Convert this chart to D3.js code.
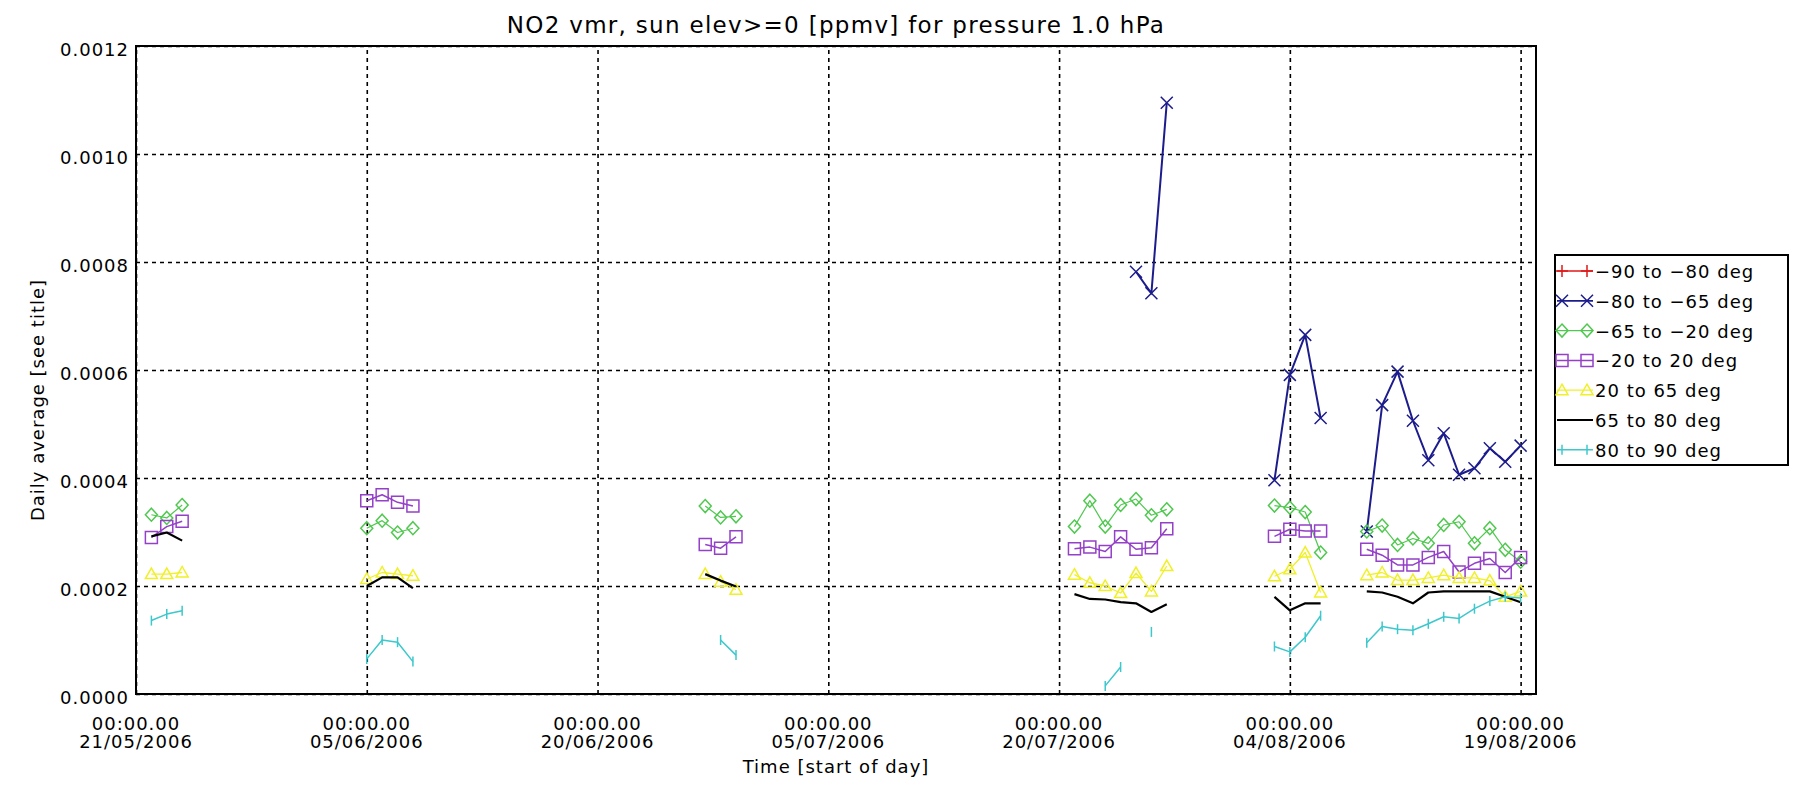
<!DOCTYPE html>
<html>
<head>
<meta charset="utf-8">
<script src="https://cdn.jsdelivr.net/npm/d3@7"></script>
<style>
body { margin: 0; background: #fff; }
svg text { font-family: "DejaVu Sans", sans-serif; fill: #000; }
</style>
</head>
<body>
<div id="chart"></div>
<script>
// days with data (start of day, UTC)
const days = [
    "2006-05-22", "2006-05-23", "2006-05-24",
    "2006-06-05", "2006-06-06", "2006-06-07", "2006-06-08",
    "2006-06-27", "2006-06-28", "2006-06-29",
    "2006-07-21", "2006-07-22", "2006-07-23", "2006-07-24", "2006-07-25", "2006-07-26", "2006-07-27",
    "2006-08-03", "2006-08-04", "2006-08-05", "2006-08-06",
    "2006-08-09", "2006-08-10", "2006-08-11", "2006-08-12", "2006-08-13", "2006-08-14",
    "2006-08-15", "2006-08-16", "2006-08-17", "2006-08-18", "2006-08-19"
];

const bandLabels = ["\u221290 to \u221280 deg", "\u221280 to \u221265 deg", "\u221265 to \u221220 deg",
                    "\u221220 to 20 deg", "20 to 65 deg", "65 to 80 deg", "80 to 90 deg"];

const band90S = [
    null, null, null, null, null, null, null, null, null, null,
    null, null, null, null, null, null, null, null, null, null, null,
    null, null, null, null, null, null, null, null, null, null, null
];
const band80S = [
    null, null, null,
    null, null, null, null,
    null, null, null,
    null, null, null, null, 0.000782, 0.000742, 0.001095,
    0.000396, 0.000591, 0.000665, 0.000511,
    0.000301, 0.000535, 0.000597, 0.000506, 0.000433, 0.000483, 0.000406, 0.000418, 0.000455, 0.000430, 0.000460
];
const band65S = [
    0.000332, 0.000326, 0.000350,
    0.000307, 0.000321, 0.000299, 0.000307,
    0.000348, 0.000327, 0.000329,
    0.000310, 0.000358, 0.000310, 0.000350, 0.000361, 0.000331, 0.000342,
    0.000349, 0.000345, 0.000337, 0.000262,
    0.000301, 0.000312, 0.000276, 0.000288, 0.000279, 0.000313, 0.000319, 0.000279, 0.000307, 0.000267, 0.000245
];
const band20S = [
    0.000290, 0.000310, 0.000320,
    0.000358, 0.000369, 0.000355, 0.000348,
    0.000277, 0.000270, 0.000291,
    0.000269, 0.000272, 0.000264, 0.000291, 0.000268, 0.000271, 0.000306,
    0.000292, 0.000305, 0.000302, 0.000302,
    0.000268, 0.000257, 0.000239, 0.000239, 0.000253, 0.000264, 0.000226, 0.000242, 0.000251, 0.000225, 0.000253
];
const band20N = [
    0.000222, 0.000222, 0.000225,
    0.000213, 0.000225, 0.000222, 0.000219,
    0.000222, 0.000208, 0.000193,
    0.000221, 0.000206, 0.000200, 0.000187, 0.000224, 0.000190, 0.000237,
    0.000218, 0.000231, 0.000262, 0.000188,
    0.000220, 0.000225, 0.000211, 0.000211, 0.000215, 0.000220, 0.000215, 0.000215, 0.000210, 0.000180, 0.000190
];
const band65N = [
    0.000292, 0.000299, 0.000284,
    0.000200, 0.000216, 0.000216, 0.000196,
    0.000222, 0.000210, 0.000199,
    0.000185, 0.000176, 0.000175, 0.000170, 0.000168, 0.000152, 0.000166,
    0.000180, 0.000155, 0.000168, 0.000168,
    0.000190, 0.000188, 0.000180, 0.000168, 0.000188, 0.000190, 0.000190, 0.000190, 0.000190, 0.000180, 0.000170
];
const band80N = [
    0.000136, 0.000148, 0.000154,
    0.000065, 0.000100, 0.000096, 0.000060,
    null, 0.000100, 0.000072,
    null, null, 0.000015, 0.000050, null, 0.000115, null,
    0.000088, 0.000078, 0.000105, 0.000145,
    0.000095, 0.000125, 0.000120, 0.000118, 0.000130, 0.000143, 0.000140, 0.000158, 0.000172, 0.000180, 0.000178
];

const xTickDays = ["2006-05-21", "2006-06-05", "2006-06-20", "2006-07-05", "2006-07-20", "2006-08-04", "2006-08-19"];
const yTickValues = [0, 0.0002, 0.0004, 0.0006, 0.0008, 0.0010, 0.0012];
const xDomain = ["2006-05-21", "2006-08-20"];

const titleText = "NO2 vmr, sun elev>=0 [ppmv] for pressure 1.0 hPa";
const xTitle = "Time [start of day]";
const yTitle = "Daily average [see title]";

// styles, one per band
const bandStyles = [
    {color: "#e01818", marker: "plus",     lw: 1.5},
    {color: "#1c1c8c", marker: "x",        lw: 2},
    {color: "#50c850", marker: "diamond",  lw: 1.2},
    {color: "#9440c8", marker: "square",   lw: 1.5},
    {color: "#f0f028", marker: "triangle", lw: 1.3},
    {color: "#000000", marker: "none",     lw: 2.2},
    {color: "#3cc8cc", marker: "bar",      lw: 1.5}
];

function markerPath(type) {
    if (type === "plus") return "M-6,0H6M0,-6V6";
    if (type === "x") return "M-6,-6L6,6M-6,6L6,-6";
    if (type === "diamond") return "M0,-6.5L6,0L0,6.5L-6,0Z";
    if (type === "square") return "M-6,-6H6V6H-6Z";
    if (type === "triangle") return "M0,-6L6,4.5L-6,4.5Z";
    if (type === "bar") return "M0,-5V5";
    return "";
}

function drawChart(rootElement) {
    let width = 1794, height = 787;
    let left = 136, right = 1536, top = 46, bottom = 694;
    let parse = d3.utcParse("%Y-%m-%d");

    let svg = d3.select("#" + rootElement).append("svg")
                .attr("width", width)
                .attr("height", height)
                .style("display", "block");

    let x = d3.scaleUtc().domain(xDomain.map(parse)).range([left, right]);
    let y = d3.scaleLinear().domain([0, 0.0012]).range([bottom, top]);

    // dotted grid
    let gx = svg.append("g")
        .attr("transform", "translate(0," + bottom + ")")
        .call(d3.axisBottom(x).tickValues(xTickDays.map(parse)).tickSize(-(bottom - top)).tickFormat(""));
    let gy = svg.append("g")
        .attr("transform", "translate(" + left + ",0)")
        .call(d3.axisLeft(y).tickValues(yTickValues).tickSize(-(right - left)).tickFormat(""));
    [gx, gy].forEach(function(g) {
        g.select(".domain").remove();
        g.selectAll(".tick line")
            .attr("stroke", "#000")
            .attr("stroke-width", 1.6)
            .attr("stroke-dasharray", "4,4");
    });

    // series
    let allBands = [band90S, band80S, band65S, band20S, band20N, band65N, band80N];
    let line = d3.line()
                .defined(p => p.v !== null)
                .x(p => x(p.date))
                .y(p => y(p.v));

    allBands.forEach(function(values, k) {
        let st = bandStyles[k];
        let pts = [];
        values.forEach(function(v, i) {
            let d = parse(days[i]);
            if (i > 0 && (d - parse(days[i - 1])) > 1.5 * 86400000) pts.push({date: null, v: null});
            pts.push({date: d, v: v});
        });
        svg.append("path")
            .attr("d", line(pts))
            .attr("fill", "none")
            .attr("stroke", st.color)
            .attr("stroke-width", st.lw)
            .attr("stroke-linejoin", "round");

        if (st.marker !== "none") {
            svg.append("g").selectAll("path")
                .data(pts.filter(p => p.v !== null))
                .join("path")
                .attr("d", markerPath(st.marker))
                .attr("transform", p => "translate(" + x(p.date) + "," + y(p.v) + ")")
                .attr("fill", "none")
                .attr("stroke", st.color)
                .attr("stroke-width", 1.5);
        }
    });

    // frame
    svg.append("rect")
        .attr("x", left).attr("y", top)
        .attr("width", right - left).attr("height", bottom - top)
        .attr("fill", "none")
        .attr("stroke", "#000")
        .attr("stroke-width", 2);

    // tick labels
    let dayFormat = d3.utcFormat("%d/%m/%Y");
    let xl = svg.append("g").selectAll("text")
        .data(xTickDays.map(parse))
        .join("text")
        .attr("text-anchor", "middle")
        .style("font-size", "18px")
        .style("letter-spacing", "1px");
    xl.append("tspan").attr("x", d => x(d)).attr("y", 730).text("00:00.00");
    xl.append("tspan").attr("x", d => x(d)).attr("y", 748).text(d => dayFormat(d));

    svg.append("g").selectAll("text")
        .data(yTickValues)
        .join("text")
        .attr("x", left - 7)
        .attr("y", d => y(d) + 10)
        .attr("text-anchor", "end")
        .style("font-size", "18px")
        .style("letter-spacing", "1px")
        .text(d3.format(".4f"));

    // titles
    svg.append("text")
        .attr("x", (left + right) / 2)
        .attr("y", 33)
        .attr("text-anchor", "middle")
        .style("font-size", "23px")
        .style("letter-spacing", "1.3px")
        .text(titleText);

    svg.append("text")
        .attr("x", (left + right) / 2)
        .attr("y", 773)
        .attr("text-anchor", "middle")
        .style("font-size", "18px")
        .style("letter-spacing", "1px")
        .text(xTitle);

    svg.append("text")
        .attr("transform", "translate(44," + ((top + bottom) / 2 + 30) + ") rotate(-90)")
        .attr("text-anchor", "middle")
        .style("font-size", "18px")
        .style("letter-spacing", "1px")
        .text(yTitle);

    // legend
    let lx = 1555, ly = 255, rowH = 29.8;
    svg.append("rect")
        .attr("x", lx).attr("y", ly)
        .attr("width", 233).attr("height", 210)
        .attr("fill", "#fff")
        .attr("stroke", "#000")
        .attr("stroke-width", 2);

    let rows = svg.append("g").selectAll("g")
        .data(bandLabels)
        .join("g")
        .attr("transform", (d, i) => "translate(" + lx + "," + (ly + 16 + i * rowH) + ")");

    rows.append("line")
        .attr("x1", 2).attr("x2", 38)
        .attr("stroke", (d, i) => bandStyles[i].color)
        .attr("stroke-width", (d, i) => Math.min(bandStyles[i].lw, 1.8));

    rows.each(function(d, i) {
        let st = bandStyles[i];
        if (st.marker === "none") return;
        d3.select(this).selectAll("path")
            .data([7, 32])
            .join("path")
            .attr("d", markerPath(st.marker))
            .attr("transform", mx => "translate(" + mx + ",0)")
            .attr("fill", "none")
            .attr("stroke", st.color)
            .attr("stroke-width", 1.5);
    });

    rows.append("text")
        .attr("x", 40)
        .attr("y", 7)
        .style("font-size", "18px")
        .style("letter-spacing", "1px")
        .text(d => d);
}

drawChart("chart");
</script>
</body>
</html>
